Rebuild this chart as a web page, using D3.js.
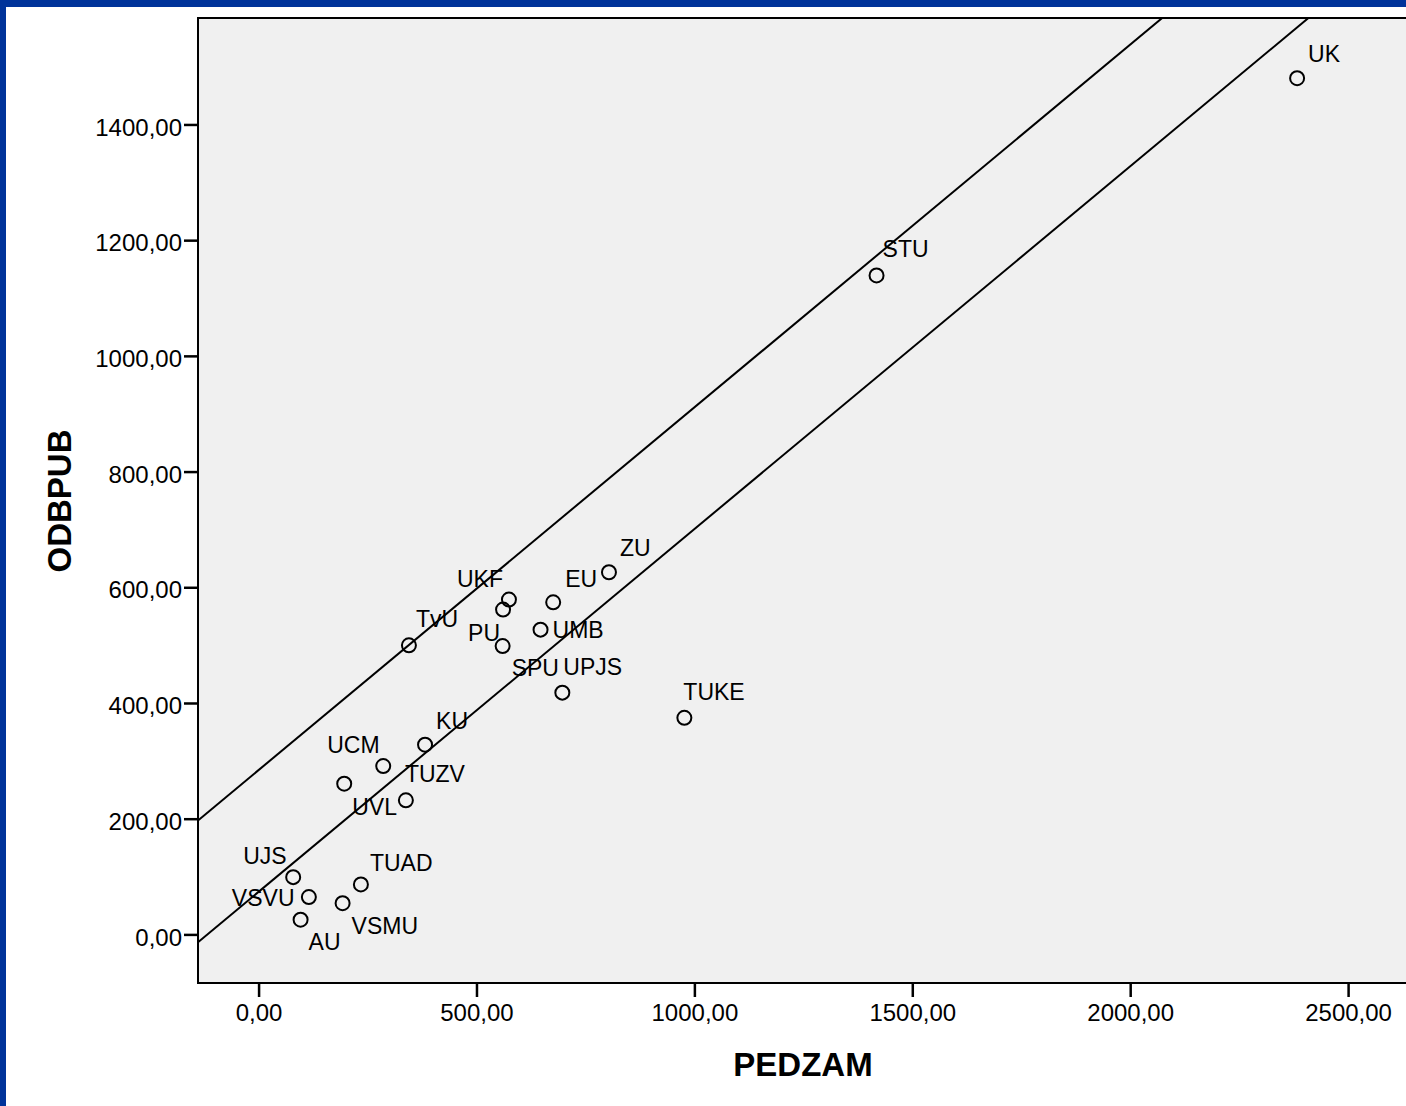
<!DOCTYPE html>
<html>
<head>
<meta charset="utf-8">
<script src="https://d3js.org/d3.v7.min.js"></script>
<style>
	body { margin: 0; background: #fff; }
	svg { display: block; }
</style>
</head>
<body>
<div id="chart-area"></div>
<script>
/*
*    scatter PEDZAM x ODBPUB
*/

// data
var names  = ["UK", "STU", "ZU", "EU", "UKF", "PU", "UMB", "SPU", "TvU", "UPJS",
              "TUKE", "KU", "UCM", "UVL", "TUZV", "UJS", "VSVU", "TUAD", "VSMU", "AU"];
var pedzam = [2383, 1418, 804, 676, 574.5, 561, 647, 560, 345, 697,
              977, 382, 286, 196.5, 338, 79.4, 115.4, 234.8, 192.8, 96.4];
var odbpub = [1480, 1139, 626, 574, 578.7, 561.4, 526.8, 498.4, 499.7, 417.9,
              374.3, 328, 291, 260.5, 231.7, 99, 64.5, 86.4, 54, 25.4];

// two parallel reference lines (intercept, slope)
var lineIntercepts = [284, 73.6];
var lineSlope = 0.627;

var xTicks = [0, 500, 1000, 1500, 2000, 2500];
var yTicks = [0, 200, 400, 600, 800, 1000, 1200, 1400];
var xDomain = [-139, 2665];
var yDomain = [-84, 1584];

// label placement next to each point (pixels, text start / baseline)
var labelOffset = {
	UK: [11, -16], STU: [6, -18], ZU: [11, -16], EU: [12, -15], UKF: [-52, -13],
	PU: [-35, 31], UMB: [12, 8], SPU: [9, 30], TvU: [7, -18], UPJS: [1, -18],
	TUKE: [-1, -18], KU: [11, -16], UCM: [-56, -13], UVL: [8, 31], TUZV: [-1, -18],
	UJS: [-50, -13], VSVU: [-77, 9], TUAD: [9, -13], VSMU: [9, 31], AU: [8, 30]
};

var W = 1406, H = 1106;
var plot = {left: 198, top: 18, right: 1420, bottom: 983};
var font = "'Liberation Sans', Arial, sans-serif";
var blue = "#00339a";

var svg = d3.select("#chart-area")
	.append("svg")
		.attr("width", W)
		.attr("height", H)
		.style("background", "#fff");

// blue frame (top and left)
svg.append("rect").attr("x", 0).attr("y", 0).attr("width", W).attr("height", 7).attr("fill", blue);
svg.append("rect").attr("x", 0).attr("y", 0).attr("width", 6).attr("height", H).attr("fill", blue);

//Scales
var x = d3.scaleLinear().domain(xDomain).range([plot.left, plot.right]);
var y = d3.scaleLinear().domain(yDomain).range([plot.bottom, plot.top]);

// plot background
svg.append("rect")
	.attr("x", plot.left)
	.attr("y", plot.top)
	.attr("width", plot.right - plot.left)
	.attr("height", plot.bottom - plot.top)
	.attr("fill", "#f0f0f0");

svg.append("clipPath").attr("id", "clip")
	.append("rect")
		.attr("x", plot.left)
		.attr("y", plot.top)
		.attr("width", plot.right - plot.left)
		.attr("height", plot.bottom - plot.top);

var fmt = function(d){ return d3.format(".2f")(d).replace(".", ","); };

//x axis
var xAxis = svg.append("g")
	.attr("transform", "translate(0," + plot.bottom + ")")
	.call(d3.axisBottom(x).tickValues(xTicks).tickSize(14).tickFormat(fmt));

//y axis
var yAxis = svg.append("g")
	.attr("transform", "translate(" + plot.left + ",0)")
	.call(d3.axisLeft(y).tickValues(yTicks).tickSize(14).tickFormat(fmt));

[xAxis, yAxis].forEach(function(ax){
	ax.select(".domain").remove();
	ax.selectAll(".tick line").attr("stroke", "#000").attr("stroke-width", 2.5);
	ax.selectAll(".tick text")
		.attr("fill", "#000")
		.style("font-family", font)
		.style("font-size", "24px");
});
xAxis.selectAll(".tick text").attr("y", 38).attr("dy", 0);
yAxis.selectAll(".tick text").attr("x", -16).attr("dy", 0).attr("y", 10.7);

// reference lines
var lines = svg.append("g").attr("clip-path", "url(#clip)");
lineIntercepts.forEach(function(a){
	lines.append("line")
		.attr("x1", x(xDomain[0]))
		.attr("y1", y(a + lineSlope * xDomain[0]))
		.attr("x2", x(xDomain[1]))
		.attr("y2", y(a + lineSlope * xDomain[1]))
		.attr("stroke", "#000")
		.attr("stroke-width", 2);
});

// points
var pts = names.map(function(n, i){ return {name: n, px: pedzam[i], ob: odbpub[i]}; });

svg.append("g").selectAll("circle")
	.data(pts)
	.enter()
	.append("circle")
		.attr("cx", function(d){ return x(d.px); })
		.attr("cy", function(d){ return y(d.ob); })
		.attr("r", 7)
		.attr("fill", "none")
		.attr("stroke", "#000")
		.attr("stroke-width", 2);

svg.append("g").selectAll("text")
	.data(pts)
	.enter()
	.append("text")
		.attr("x", function(d){ return x(d.px) + labelOffset[d.name][0]; })
		.attr("y", function(d){ return y(d.ob) + labelOffset[d.name][1]; })
		.style("font-family", font)
		.style("font-size", "23px")
		.attr("fill", "#000")
		.text(function(d){ return d.name; });

// plot border
svg.append("rect")
	.attr("x", plot.left)
	.attr("y", plot.top)
	.attr("width", plot.right - plot.left)
	.attr("height", plot.bottom - plot.top)
	.attr("fill", "none")
	.attr("stroke", "#000")
	.attr("stroke-width", 2);

//Labels
svg.append("text")
	.attr("x", 803)
	.attr("y", 1076)
	.attr("text-anchor", "middle")
	.style("font-family", font)
	.style("font-size", "33px")
	.style("font-weight", "bold")
	.text("PEDZAM");

svg.append("text")
	.attr("transform", "translate(71,501) rotate(-90)")
	.attr("text-anchor", "middle")
	.style("font-family", font)
	.style("font-size", "33px")
	.style("font-weight", "bold")
	.text("ODBPUB");
</script>
</body>
</html>
